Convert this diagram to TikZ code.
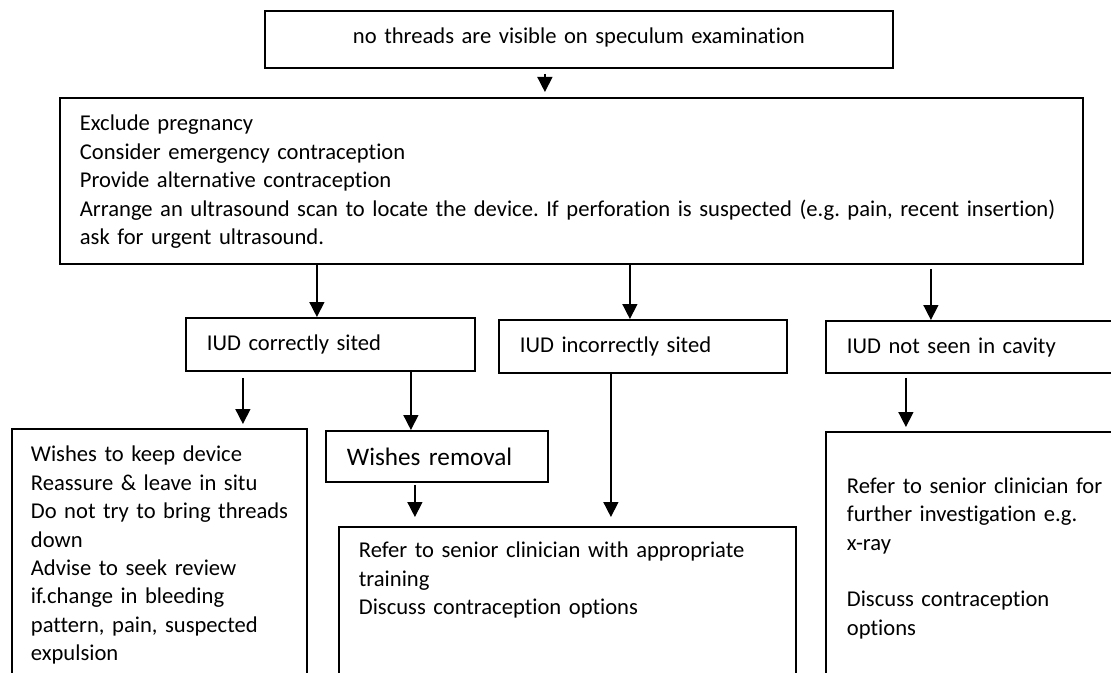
\documentclass[tikz,border=0pt]{standalone}
\usepackage{fontspec}
\setmainfont{Carlito}[Ligatures=NoCommon]
\usetikzlibrary{arrows.meta}

\begin{document}
\begin{tikzpicture}[x=0.5pt,y=-0.5pt,
    box/.style={draw,line width=0.9pt,anchor=north west,align=left,inner ysep=0pt,
      font=\fontsize{11.3}{14.2}\selectfont,
      execute at begin node={\frenchspacing\hyphenpenalty=10000\rightskip=0pt plus 1fil minus 8pt}},
    arr/.style={-{Triangle[width=7.5pt,length=7.5pt]},line width=0.75pt}]
  \useasboundingbox (0,0) rectangle (1111,673);
  \clip (0,0) rectangle (1111,673);
  % top of the chart
  \node[box,inner xsep=0pt,text width=314pt,text height=16.5pt,text depth=12pt,
    execute at begin node={\leftskip=0pt plus 1fil\rightskip=0pt plus 1fil\parfillskip=0pt}] (nothreads) at (264,10)
    {no threads are visible on speculum examination};
  \node[box,inner xsep=10pt,text width=491.5pt,text height=16.5pt,text depth=66.5pt] (exclude) at (59,97)
    {Exclude pregnancy\\
     Consider emergency contraception\\
     Provide alternative contraception\\
     Arrange an ultrasound scan to locate the device. If perforation is suspected (e.g. pain, recent insertion)\\
     ask for urgent ultrasound.};
  % scan result
  \node[box,inner xsep=10.5pt,text width=123.5pt,text height=16.5pt,text depth=10pt] (ics) at (185,317) {IUD correctly sited};
  \node[box,inner xsep=10.5pt,text width=123pt,text height=16.5pt,text depth=10pt] (iis) at (498,319) {IUD incorrectly sited};
  \node[box,inner xsep=10.5pt,text width=129pt,text height=16.5pt,text depth=9.5pt] (inc) at (825,320) {IUD not seen in cavity};
  % what to do
  \node[box,inner xsep=9.5pt,text width=128.5pt,text height=16.5pt,text depth=120pt] (keep) at (11,428)
    {Wishes to keep device\\
     Reassure \& leave in situ\\
     Do not try to bring threads\\
     down\\
     Advise to seek review\\
     if.change in bleeding\\
     pattern, pain, suspected\\
     expulsion};
  \node[box,inner xsep=10.5pt,text width=90pt,text height=17.5pt,text depth=8pt,font=\fontsize{12.6}{15.6}\selectfont] (wrem) at (325,430)
    {Wishes removal};
  \node[box,inner xsep=10pt,text width=208.5pt,text height=15.5pt,text depth=72pt] (refer) at (338,526)
    {Refer to senior clinician with appropriate\\
     training\\
     Discuss contraception options};
  \node[box,inner xsep=10.5pt,text width=129pt,text height=16.5pt,text depth=120pt] (xray) at (825,431)
    {\mbox{}\\
     Refer to senior clinician for\\
     further investigation e.g.\\
     x-ray\\
     \mbox{}\\
     Discuss contraception\\
     options};
  % arrows
  \draw[arr,shorten <=2.5pt,shorten >=2.5pt] ([xshift=-17pt]nothreads.south) -- ([xshift=-17pt]nothreads.south |- exclude.north);
  \draw[arr] ([xshift=-6.75pt]ics.north |- exclude.south) -- ([xshift=-6.75pt]ics.north);
  \draw[arr] ([xshift=-6.5pt]iis.north |- exclude.south) -- ([xshift=-6.5pt]iis.north);
  \draw[arr,shorten <=2pt] ([xshift=-22.5pt]inc.north |- exclude.south) -- ([xshift=-22.5pt]inc.north);
  \draw[arr,shorten <=3pt,shorten >=2pt] ([xshift=41.75pt]keep.north |- ics.south) -- ([xshift=41.75pt]keep.north);
  \draw[arr] ([xshift=-13pt]wrem.north |- ics.south) -- ([xshift=-13pt]wrem.north);
  \draw[arr,shorten <=1pt,shorten >=4.5pt] ([xshift=-11pt]wrem.south) -- ([xshift=-11pt]wrem.south |- refer.north);
  \draw[arr,shorten >=4.5pt] ([xshift=-16pt]iis.south) -- ([xshift=-16pt]iis.south |- refer.north);
  \draw[arr,shorten <=2pt,shorten >=2pt] ([xshift=-35pt]inc.south) -- ([xshift=-35pt]inc.south |- xray.north);
\end{tikzpicture}
\end{document}
